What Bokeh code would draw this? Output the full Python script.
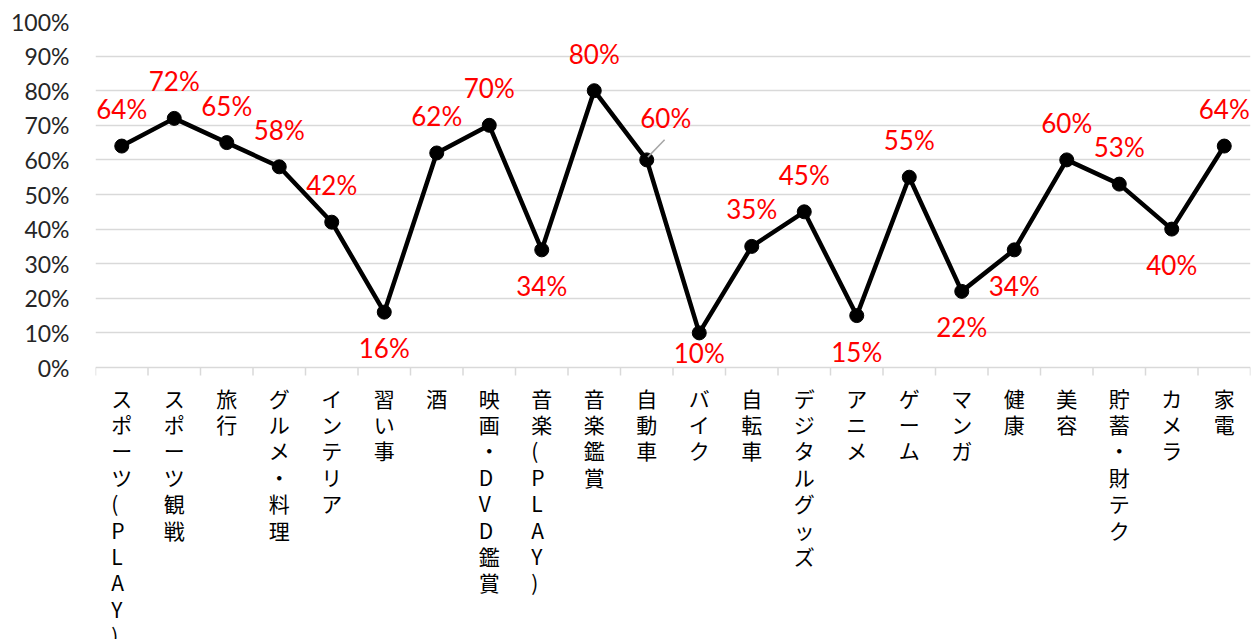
from bokeh.plotting import figure
from bokeh.models import ColumnDataSource, LabelSet, Range1d, FixedTicker, CustomJSTickFormatter
from bokeh.core.properties import value
from bokeh.embed import file_html
from bokeh.resources import INLINE

categories = ["スポーツ(PLAY)", "スポーツ観戦", "旅行", "グルメ・料理", "インテリア", "習い事", "酒",
              "映画・DVD鑑賞", "音楽(PLAY)", "音楽鑑賞", "自動車", "バイク", "自転車", "デジタルグッズ",
              "アニメ", "ゲーム", "マンガ", "健康", "美容", "貯蓄・財テク", "カメラ", "家電"]
values = [64, 72, 65, 58, 42, 16, 62, 70, 34, 80, 60, 10, 35, 45, 15, 55, 22, 34, 60, 53, 40, 64]
y_ticks = [0, 10, 20, 30, 40, 50, 60, 70, 80, 90, 100]

# label placement style: 1 = above, -1 = below, 2 = above-right with leader
label_pos = [1, 1, 1, 1, 1, -1, 1, 1, -1, 1, 2, -1, 1, 1, -1, 1, -1, -1, 1, 1, -1, 1]

n = len(categories)
xs = [i + 0.5 for i in range(n)]

W, H = 1253, 639
PX_PER_UNIT = 3.46
frame_h = H - 21
y_min = 100 - frame_h / PX_PER_UNIT

p = figure(width=W, height=H, output_backend="svg", toolbar_location=None,
           x_range=Range1d(0, n), y_range=Range1d(y_min, 100),
           min_border_left=95, min_border_right=3, min_border_top=21, min_border_bottom=0)
p.outline_line_color = None
p.background_fill_color = "white"
p.border_fill_color = "white"
p.xaxis.visible = False

p.xgrid.grid_line_color = None
p.ygrid.grid_line_color = "#d9d9d9"
p.ygrid.grid_line_width = 1.5
p.yaxis.ticker = FixedTicker(ticks=y_ticks)
p.yaxis.formatter = CustomJSTickFormatter(code="return tick.toFixed(0) + '%';")
p.yaxis.axis_line_color = None
p.yaxis.major_tick_line_color = None
p.yaxis.minor_tick_line_color = None
p.yaxis.major_label_text_font = "Lato"
p.yaxis.major_label_text_font_size = "23px"
p.yaxis.major_label_text_color = "#262626"
p.yaxis.major_label_standoff = 20

# category axis line and boundary ticks at y = 0
tick_len = 8 / PX_PER_UNIT
bx = list(range(n + 1))
p.segment(x0=bx, y0=[0] * len(bx), x1=bx, y1=[-tick_len] * len(bx), line_color="#d9d9d9", line_width=1.5)

src = ColumnDataSource(dict(x=xs, y=values))
p.line("x", "y", source=src, line_color="black", line_width=4.5)
p.scatter("x", "y", source=src, size=14, fill_color="black", line_color="black")

# leader line for the above-right label
for i, pos in enumerate(label_pos):
    if pos == 2:
        p.segment(x0=[xs[i] + 0.02], y0=[values[i] + 0.8], x1=[xs[i] + 0.34], y1=[values[i] + 5.8],
                  line_color="#a6a6a6", line_width=1.5)

lx_off = []
ly_off = []
for v, pos in zip(values, label_pos):
    if pos == 1:
        lx_off.append(0); ly_off.append(37)
    elif pos == -1:
        # keep the label inside the plot area (as the original does)
        lx_off.append(0); ly_off.append(-min(36, v * PX_PER_UNIT - 15))
    else:
        lx_off.append(19); ly_off.append(42)
texts = [f"{v}%" for v in values]
lsrc = ColumnDataSource(dict(x=xs, y=values, t=texts, xo=lx_off, yo=ly_off))
p.add_layout(LabelSet(x="x", y="y", text="t", source=lsrc, x_offset="xo", y_offset="yo",
                      text_align="center", text_baseline="middle", text_color="#ff0000",
                      text_font=value("Lato"), text_font_size="26px"))

# vertical category labels
stacked = ["\n".join(list(c)) for c in categories]
csrc = ColumnDataSource(dict(x=xs, y=[0] * n, t=stacked))
p.add_layout(LabelSet(x="x", y="y", text="t", source=csrc, y_offset=-15,
                      text_align="center", text_baseline="top", text_color="black",
                      text_font=value("Noto Sans CJK JP"), text_font_size="21px", text_line_height=0.88))

open("out.html", "w").write(file_html(p, INLINE))
